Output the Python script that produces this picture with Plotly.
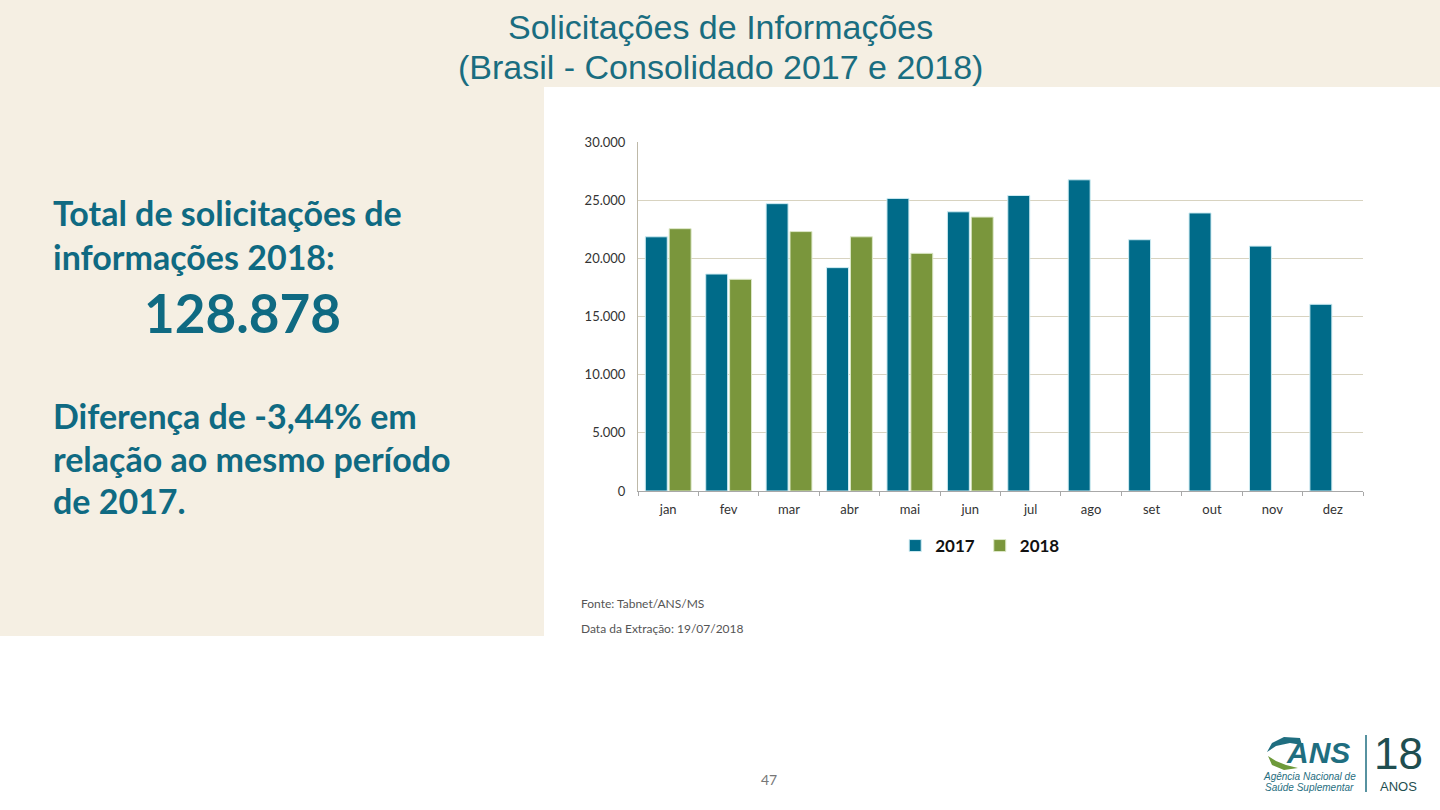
import plotly.graph_objects as go

months = ["jan", "fev", "mar", "abr", "mai", "jun", "jul", "ago", "set", "out", "nov", "dez"]
values_2017 = [21850, 18650, 24700, 19200, 25150, 24000, 25400, 26750, 21600, 23900, 21050, 16050]
values_2018 = [22550, 18200, 22300, 21850, 20430, 23548, None, None, None, None, None, None]
y_ticks = [0, 5000, 10000, 15000, 20000, 25000, 30000]

C2017 = "#006B89"
C2018 = "#7A963C"
TEAL = "#0F6A82"
BEIGE = "#F5EFE3"

W, H = 1440, 810
L, R, T, B = 638, 1363, 142, 491


def px(x):
    return (x - L) / (R - L)


def py(y):
    return (B - y) / (B - T)


fig = go.Figure()
fig.add_trace(go.Bar(name="2017", x=months, y=values_2017, marker=dict(color=C2017, line=dict(color="#CDEBF2", width=1))))
fig.add_trace(go.Bar(name="2018", x=months, y=values_2018, marker=dict(color=C2018, line=dict(color="#DDE8C8", width=1))))


def ppath(points):
    return "M " + " L ".join(f"{px(a):.5f},{py(b):.5f}" for a, b in points)


shapes = [
    dict(type="rect", xref="paper", yref="paper", x0=px(0), x1=px(W), y0=py(87), y1=py(0),
         fillcolor=BEIGE, line=dict(width=0), layer="below"),
    dict(type="rect", xref="paper", yref="paper", x0=px(0), x1=px(544), y0=py(636), y1=py(87),
         fillcolor=BEIGE, line=dict(width=0), layer="below"),
    dict(type="line", xref="paper", yref="paper", x0=px(1366), x1=px(1366), y0=py(792), y1=py(735),
         line=dict(color="#1F6E80", width=1.5)),
    # logo swoosh
    dict(type="path", xref="paper", yref="paper",
         path=ppath([(1300, 738), (1284, 737), (1272, 743), (1267, 752), (1276, 746), (1290, 743), (1302, 745)]) + " Z",
         fillcolor="#1F6E80", line=dict(width=0)),
    dict(type="path", xref="paper", yref="paper",
         path=ppath([(1268, 756), (1272, 765), (1284, 770), (1298, 768), (1286, 765), (1276, 761)]) + " Z",
         fillcolor="#6E9A3A", line=dict(width=0)),
]

annotations = []


def note(text, x, y, size, color=TEAL, family="Lato", weight="normal", xanchor="left", yanchor="middle", style="normal"):
    annotations.append(dict(text=text, x=px(x), y=py(y), xref="paper", yref="paper", showarrow=False,
                            xanchor=xanchor, yanchor=yanchor,
                            font=dict(size=size, color=color, family=family, weight=weight, style=style)))


note("Solicitações de Informações", 720, 27, 34, color="#1A6D80", family="Liberation Sans", xanchor="center")
note("(Brasil - Consolidado 2017 e 2018)", 720, 67, 34, color="#1A6D80", family="Liberation Sans", xanchor="center")

note("Total de solicitações de", 51, 212, 34, weight="bold")
note("informações 2018:", 51, 256, 34, weight="bold")
note("128.878", 242, 312, 53, weight="bold", xanchor="center")
note("Diferença de -3,44% em", 51, 415, 34, weight="bold")
note("relação ao mesmo período", 51, 458, 34, weight="bold")
note("de 2017.", 51, 500, 34, weight="bold")

note("Fonte: Tabnet/ANS/MS", 579, 603, 12, color="#555555", family="Lato")
note("Data da Extração: 19/07/2018", 579, 628, 12, color="#555555", family="Lato")
note("47", 769, 779, 14, color="#777777", family="Lato", xanchor="center")

note("<b><i>ANS</i></b>", 1352, 752, 30, color="#1F6E80", family="Liberation Sans", xanchor="right")
note("<i>Agência Nacional de</i>", 1309, 776, 10, color="#1F6E80", family="Liberation Sans", xanchor="center")
note("<i>Saúde Suplementar</i>", 1309, 787, 10, color="#1F6E80", family="Liberation Sans", xanchor="center")
note("18", 1398, 753, 44, color="#1F4E50", family="Liberation Sans", xanchor="center")
note("ANOS", 1398, 786, 13, color="#1F4E50", family="Liberation Sans", xanchor="center")

fig.update_layout(
    width=W, height=H,
    margin=dict(l=L, r=W - R, t=T, b=H - B),
    paper_bgcolor="white", plot_bgcolor="white",
    barmode="group", bargap=0.21, bargroupgap=0.08,
    separators=",.",
    showlegend=True,
    legend=dict(orientation="h", x=0.472, xanchor="center", y=py(546), yanchor="middle",
                font=dict(size=17, family="Lato", weight="bold", color="#111111"),
                itemwidth=30, traceorder="normal", bgcolor="rgba(0,0,0,0)"),
    shapes=shapes,
    annotations=annotations,
    xaxis=dict(showgrid=False, showline=True, linecolor="#A8A8A8", linewidth=1,
               ticks="outside", tickson="boundaries", ticklen=4, tickcolor="#A8A8A8",
               ticklabelstandoff=6,
               tickfont=dict(size=13, family="Lato", color="#333333")),
    yaxis=dict(range=[0, 30000], tickvals=y_ticks, tickformat=",d",
               showgrid=True, gridcolor="#D8D3C0", gridwidth=1,
               showline=True, linecolor="#BEB9A8", linewidth=1, zeroline=False,
               ticks="", ticklabelstandoff=9,
               tickfont=dict(size=13, family="Lato", color="#333333")),
)

fig.write_html("out.html", config={"displayModeBar": False},
               post_script="document.body.style.margin='0';document.body.style.overflow='hidden';")
